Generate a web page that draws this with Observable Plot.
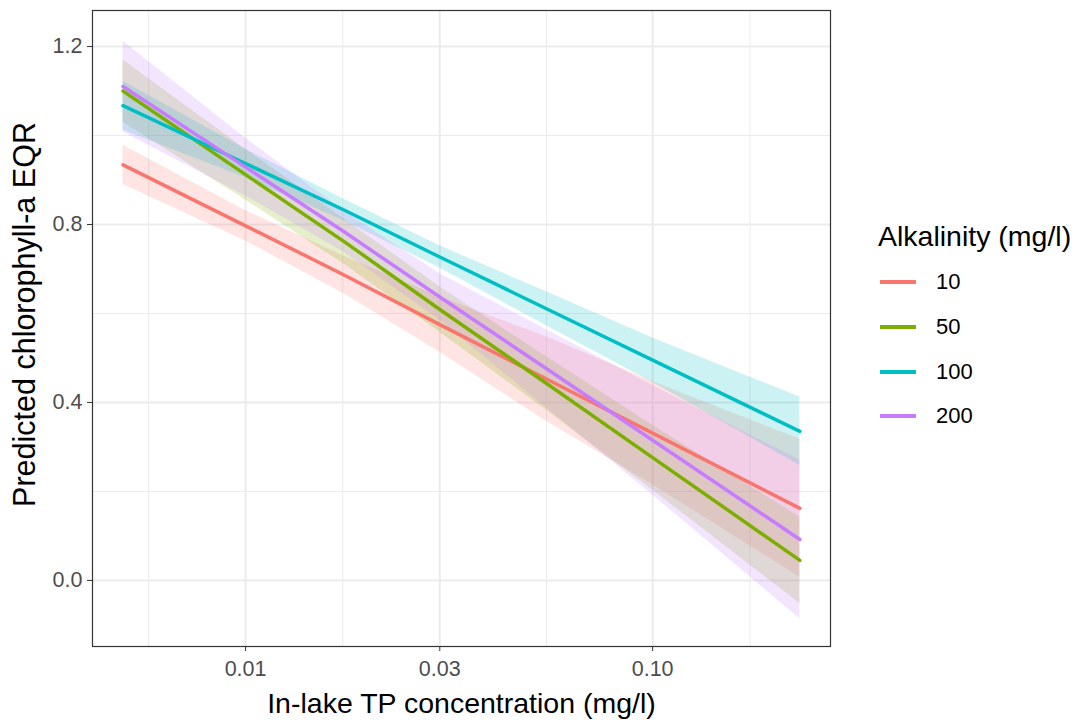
<!DOCTYPE html>
<html>
<head>
<meta charset="utf-8">
<script src="https://cdn.jsdelivr.net/npm/d3@7"></script>
<script src="https://cdn.jsdelivr.net/npm/@observablehq/plot@0.6"></script>
<style>
  html, body { margin: 0; padding: 0; background: #fff; }
  #wrap { position: relative; width: 1078px; height: 720px; font-family: "Liberation Sans", Arial, sans-serif; }
  #legend { position: absolute; left: 878px; top: 219px; color: #000; }
  #legend .title { font-size: 28.5px; line-height: 34px; white-space: nowrap; }
  #legend .item { position: absolute; left: 0; height: 30px; white-space: nowrap; }
  #legend .key { position: absolute; left: 2px; width: 36px; height: 4px; }
  #legend .lab { position: absolute; left: 58px; font-size: 22px; line-height: 24px; }
</style>
</head>
<body>
<div id="wrap"><div id="chart"></div><div id="legend"></div></div>
<script>
// TP concentration (mg/l) at which the values were read
const tp = [0.005, 0.01, 0.0175, 0.03, 0.055, 0.1, 0.23];
const alkalinity = ["10", "50", "100", "200"];
const colors = ["#F8766D", "#7CAE00", "#00BFC4", "#C77CFF"];

// fitted values and confidence limits per alkalinity
const fit10  = [0.934, 0.797, 0.686, 0.575, 0.452, 0.331, 0.162];
const lo10   = [0.890, 0.763, 0.644, 0.513, 0.357, 0.215, 0.007];
const hi10   = [0.978, 0.831, 0.728, 0.637, 0.547, 0.447, 0.317];

const fit50  = [1.100, 0.912, 0.761, 0.609, 0.442, 0.276, 0.045];
const lo50   = [1.030, 0.855, 0.710, 0.558, 0.382, 0.203, -0.052];
const hi50   = [1.170, 0.969, 0.812, 0.660, 0.502, 0.349, 0.142];

const fit100 = [1.067, 0.937, 0.832, 0.727, 0.610, 0.495, 0.335];
const lo100  = [1.012, 0.905, 0.808, 0.702, 0.572, 0.445, 0.258];
const hi100  = [1.122, 0.969, 0.856, 0.752, 0.648, 0.545, 0.412];

const fit200 = [1.110, 0.929, 0.783, 0.637, 0.475, 0.315, 0.092];
const lo200  = [1.008, 0.864, 0.737, 0.585, 0.387, 0.192, -0.086];
const hi200  = [1.212, 0.994, 0.829, 0.689, 0.563, 0.438, 0.270];

// axis ticks
const xTicks = [0.01, 0.03, 0.1];
const xTickLabels = ["0.01", "0.03", "0.10"];
const xMinor = [0.00578, 0.01733, 0.05485, 0.1735];
const yTicks = [0, 0.4, 0.8, 1.2];
const yTickLabels = ["0.0", "0.4", "0.8", "1.2"];
const yMinor = [0.2, 0.6, 1.0];

const xTitle = "In-lake TP concentration (mg/l)";
const yTitle = "Predicted chlorophyll-a EQR";
const legendTitle = "Alkalinity (mg/l)";

const series = [
  [fit10, lo10, hi10],
  [fit50, lo50, hi50],
  [fit100, lo100, hi100],
  [fit200, lo200, hi200]
];
const rows = [];
series.forEach(([f, l, h], s) => {
  tp.forEach((t, i) => rows.push({tp: t, alk: alkalinity[s], fit: f[i], lo: l[i], hi: h[i]}));
});

const font = "Liberation Sans, Arial, sans-serif";

const chart = Plot.plot({
  width: 1078,
  height: 720,
  marginLeft: 92,
  marginRight: 248,
  marginTop: 10,
  marginBottom: 74,
  style: {fontFamily: font, background: "#fff"},
  x: {type: "log", domain: [0.004207, 0.2735]},
  y: {domain: [-0.1486, 1.281]},
  color: {domain: alkalinity, range: colors},
  marks: [
    Plot.ruleX(xMinor, {stroke: "#EBEBEB", strokeWidth: 1}),
    Plot.ruleY(yMinor, {stroke: "#EBEBEB", strokeWidth: 1}),
    Plot.ruleX(xTicks, {stroke: "#EBEBEB", strokeWidth: 2}),
    Plot.ruleY(yTicks, {stroke: "#EBEBEB", strokeWidth: 2}),
    Plot.areaY(rows, {x: "tp", y1: "lo", y2: "hi", z: "alk", fill: "alk", fillOpacity: 0.2}),
    Plot.lineY(rows, {x: "tp", y: "fit", z: "alk", stroke: "alk", strokeWidth: 3.5}),
    Plot.frame({stroke: "#333333", strokeWidth: 1.2}),
    Plot.axisX(xTicks, {
      tickSize: 5, tickPadding: 9, fontSize: 21.5, stroke: "#333333", fill: "#4D4D4D",
      tickFormat: d => xTickLabels[xTicks.indexOf(d)], label: null
    }),
    Plot.axisY(yTicks, {
      tickSize: 5, tickPadding: 5, fontSize: 21.5, stroke: "#333333", fill: "#4D4D4D",
      tickFormat: d => yTickLabels[yTicks.indexOf(d)], label: null
    }),
    Plot.text([xTitle], {frameAnchor: "bottom", dy: 57, fontSize: 28.5, fill: "#000", lineAnchor: "middle"}),
    Plot.text([yTitle], {frameAnchor: "left", textAnchor: "middle", dx: -67, dy: -14, rotate: -90, fontSize: 30.5, fill: "#000", lineAnchor: "middle"})
  ]
});
document.getElementById("chart").appendChild(chart);

// legend
const leg = document.getElementById("legend");
const t = document.createElement("div");
t.className = "title";
t.textContent = legendTitle;
leg.appendChild(t);
const keyY = [63, 108, 153, 197];
alkalinity.forEach((a, i) => {
  const it = document.createElement("div");
  it.className = "item";
  it.style.top = (keyY[i] - 15) + "px";
  const k = document.createElement("div");
  k.className = "key";
  k.style.top = "13px";
  k.style.background = colors[i];
  const l = document.createElement("div");
  l.className = "lab";
  l.style.top = "3px";
  l.textContent = a;
  it.appendChild(k);
  it.appendChild(l);
  leg.appendChild(it);
});
</script>
</body>
</html>
